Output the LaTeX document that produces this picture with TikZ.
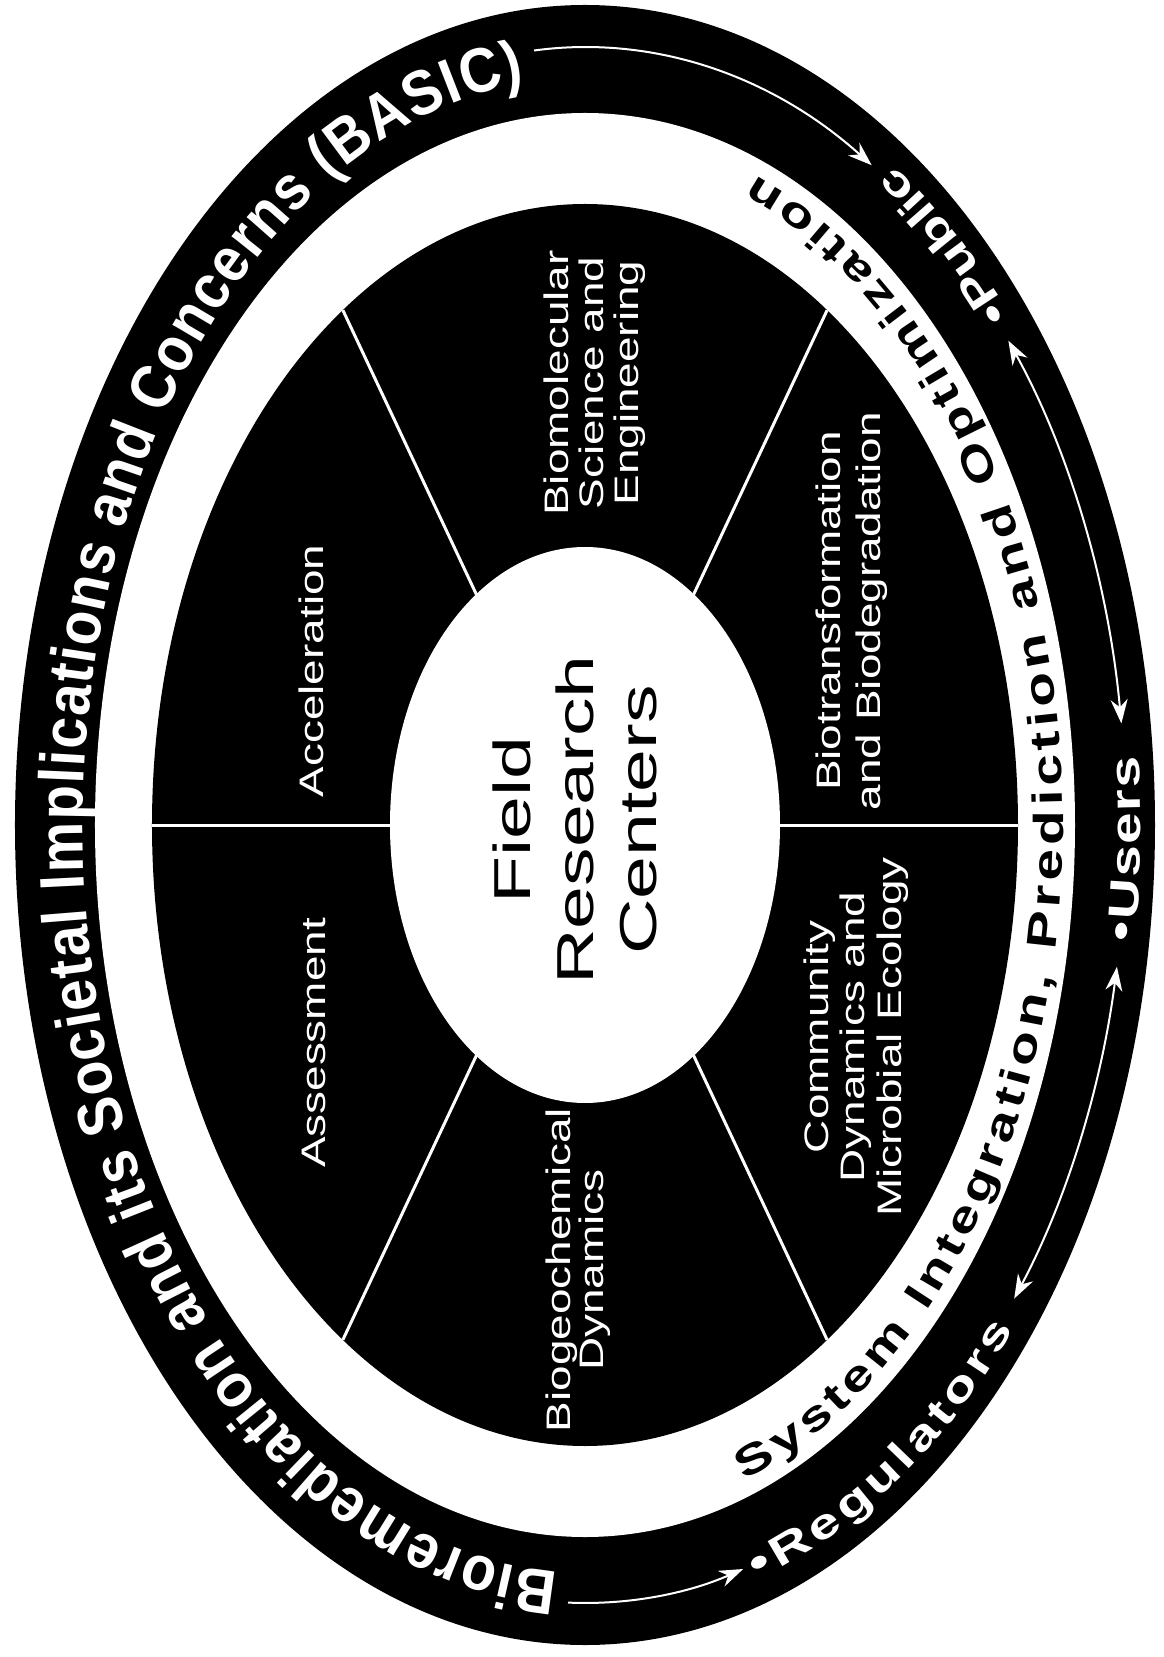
\documentclass[tikz,border=0pt]{standalone}
\usepackage{fontspec}
\setmainfont{Liberation Sans}
\newfontfamily\basicfont[FakeStretch=0.9]{Liberation Sans}
\newfontfamily\ringfont[FakeStretch=1.35]{Liberation Sans}
\newfontfamily\sectfont[FakeStretch=1.35]{Liberation Sans}
\newfontfamily\fieldfont[FakeStretch=1.48]{Liberation Sans}
\usetikzlibrary{arrows.meta,decorations.text}
\tikzset{
  sector/.style={text=white, rotate=90, align=center, inner sep=0pt, font=\sectfont\fontsize{34}{36}\selectfont},
  divider/.style={draw=white, line width=3pt},
  ringarrow/.style={draw=white, line width=2pt},
  oneway/.style={ringarrow, -{Stealth[length=24pt,width=17pt]}},
  twoway/.style={ringarrow, {Stealth[length=24pt,width=17pt]}-{Stealth[length=24pt,width=17pt]}},
  ringtext/.style={decorate, decoration={text along path, text align=fit to path, text color=white, text={#1}}},
  systext/.style={decorate, decoration={text along path, text align=fit to path, text color=black, text={#1}}}
}
\begin{document}
\begin{tikzpicture}[x=1pt, y=1pt]
\useasboundingbox (-585,-832) rectangle (578,825);
\fill[white] (-585,-832) rectangle (578,825);
\fill[black] (0,0) ellipse [x radius=570, y radius=820];
\fill[white] (0,0) ellipse [x radius=490, y radius=712];
\fill[black] (0,0) ellipse [x radius=433, y radius=621];
\foreach \ang in {0,56,124,180,236,304}
  \draw[divider] (\ang:190 and 272) -- (\ang:433 and 621);
\fill[white] (0,0) ellipse [x radius=195, y radius=278];
\node[rotate=90, align=center, inner sep=0pt, font=\fieldfont\fontsize{52}{63}\selectfont] (field) at (-10,5) {Field\\Research\\Centers};
\node[sector] (accel) at (-274,154) {Acceleration};
\node[sector] (assess) at (-271,-218) {Assessment};
\node[sector, font=\sectfont\fontsize{34}{35}\selectfont] (biomol) at (10,442) {Biomolecular\\Science and\\Engineering};
\node[sector, font=\sectfont\fontsize{34}{40}\selectfont] (biotrans) at (267,214) {Biotransformation\\and Biodegradation};
\node[sector, font=\sectfont\fontsize{34}{36.5}\selectfont] (commun) at (271,-212) {Community\\Dynamics and\\Microbial Ecology};
\node[sector, font=\sectfont\fontsize{34}{33}\selectfont] (biogeo) at (-7,-445) {Biogeochemical\\Dynamics};
\path[ringtext={|\basicfont\bfseries\fontsize{63}{70}\selectfont|Bioremediation and its Societal Implications and Concerns (BASIC)}] (267:502 and 748) arc[start angle=267, end angle=97, x radius=502, y radius=748];
\path[ringtext={|\ringfont\bfseries\fontsize{42}{46}\selectfont|•Regulators}] (-72:556 and 793) arc[start angle=-72, end angle=-39.5, x radius=556, y radius=793];
\path[ringtext={|\ringfont\bfseries\fontsize{42}{46}\selectfont|•Users}] (-8.5:556 and 793) arc[start angle=-8.5, end angle=5, x radius=556, y radius=793];
\path[ringtext={|\ringfont\bfseries\fontsize{42}{46}\selectfont|•Public}] (40:556 and 793) arc[start angle=40, end angle=56, x radius=556, y radius=793];
\path[systext={|\ringfont\bfseries\fontsize{42}{46}\selectfont|System Integration, Prediction and Optimization}] (-70.5:478 and 695) arc[start angle=-70.5, end angle=69, x radius=478, y radius=695];
\coordinate (basicend) at (95.4:541 and 778);
\coordinate (biostart) at (268.2:541 and 778);
\coordinate (usersup) at (7.5:541 and 778);
\coordinate (regup) at (-37.5:541 and 778);
\draw[oneway] (basicend) arc[start angle=95.4, end angle=58, x radius=541, y radius=778];
\draw[oneway] (biostart) arc[start angle=268.2, end angle=287, x radius=541, y radius=778];
\draw[twoway] (usersup) arc[start angle=7.5, end angle=38.5, x radius=541, y radius=778];
\draw[twoway] (regup) arc[start angle=-37.5, end angle=-10.5, x radius=541, y radius=778];
\end{tikzpicture}
\end{document}
